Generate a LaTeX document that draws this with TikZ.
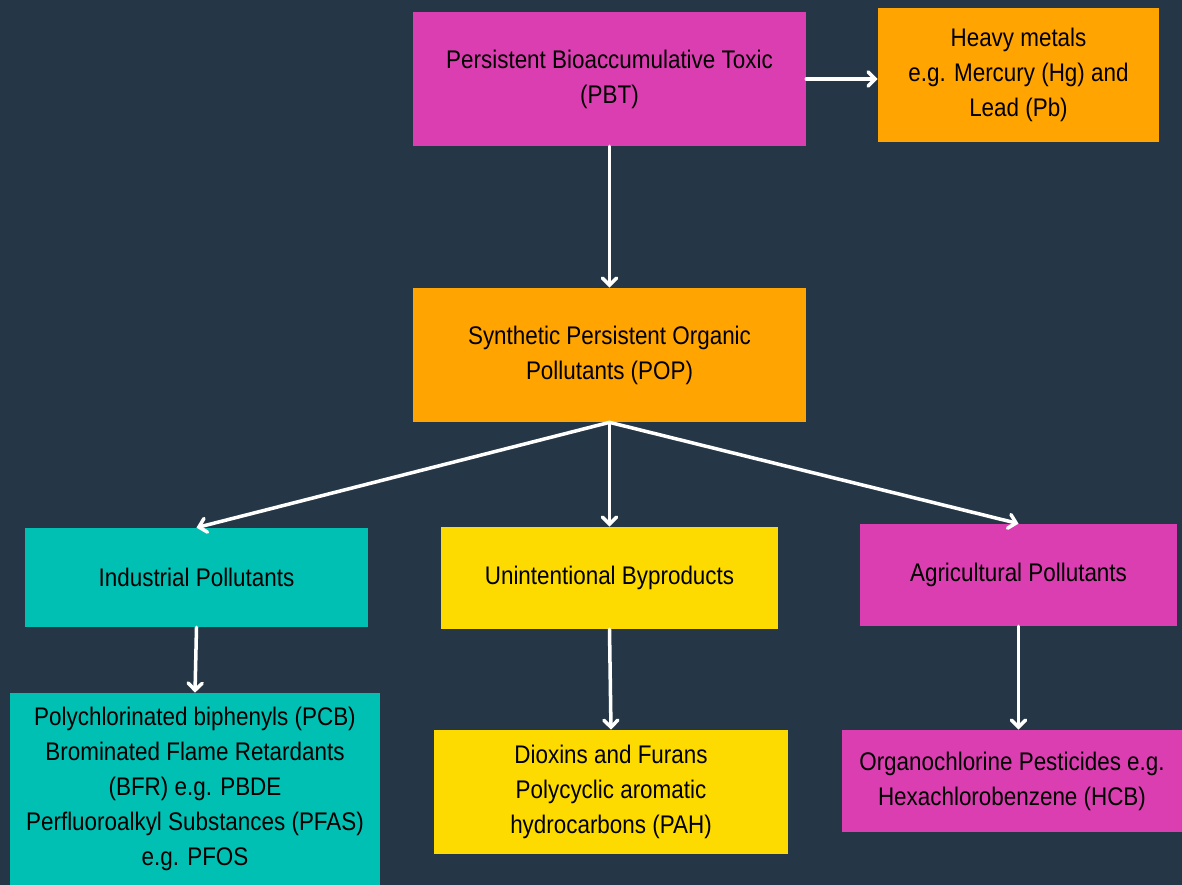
\documentclass[tikz,border=0pt]{standalone}
\usepackage{fontspec}
\setmainfont[FakeStretch=0.88]{Liberation Sans}
\usetikzlibrary{arrows.meta}
\definecolor{slate}{HTML}{253746}
\definecolor{pbtpink}{HTML}{DB3EB1}
\definecolor{poporange}{HTML}{FFA400}
\definecolor{indteal}{HTML}{00BFB3}
\definecolor{byyellow}{HTML}{FEDB00}

\begin{document}
\begin{tikzpicture}
\tikzstyle{boxStyle}=[shape = rectangle, inner sep = 0pt, align = center, text = black, font = \fontsize{14.5}{19.9}\selectfont]
\tikzstyle{pinkStyle}=[boxStyle, fill = pbtpink]
\tikzstyle{orangeStyle}=[boxStyle, fill = poporange]
\tikzstyle{tealStyle}=[boxStyle, fill = indteal]
\tikzstyle{yellowStyle}=[boxStyle, fill = byyellow]
\tikzstyle{arrowStyle}=[draw = white, line width = 2pt, line cap = round, -{Straight Barb[length = 4pt, width = 8pt, line cap = round]}]
\fill[slate] (0,0) rectangle (23.64,-17.70);
\useasboundingbox (0,0) rectangle (23.64,-17.70);
\node[pinkStyle, minimum width = 7.86cm, minimum height = 2.68cm] (pbt) at (12.19,-1.58) {Persistent Bioaccumulative Toxic\\(PBT)};
\node[orangeStyle, minimum width = 5.62cm, minimum height = 2.68cm] (heavy) at (20.37,-1.50) {Heavy metals\\e.g. Mercury (Hg) and\\Lead (Pb)};
\node[orangeStyle, minimum width = 7.86cm, minimum height = 2.68cm] (pop) at (12.19,-7.10) {Synthetic Persistent Organic\\Pollutants (POP)};
\node[tealStyle, minimum width = 6.86cm, minimum height = 1.98cm] (ind) at (3.93,-11.55) {Industrial Pollutants};
\node[yellowStyle, minimum width = 6.74cm, minimum height = 2.04cm] (unint) at (12.19,-11.56) {Unintentional Byproducts};
\node[pinkStyle, minimum width = 6.34cm, minimum height = 2.04cm] (agri) at (20.37,-11.50) {Agricultural Pollutants};
\node[tealStyle, minimum width = 7.40cm, minimum height = 3.84cm] (pcb) at (3.90,-15.78) {Polychlorinated biphenyls (PCB)\\Brominated Flame Retardants\\(BFR) e.g. PBDE\\Perfluoroalkyl Substances (PFAS)\\e.g. PFOS};
\node[yellowStyle, minimum width = 7.08cm, minimum height = 2.48cm] (diox) at (12.22,-15.84) {Dioxins and Furans\\Polycyclic aromatic\\hydrocarbons (PAH)};
\node[pinkStyle, minimum width = 6.80cm, minimum height = 2.04cm] (org) at (20.24,-15.62) {Organochlorine Pesticides e.g.\\Hexachlorobenzene (HCB)};
\path
(pbt.east) edge [arrowStyle] (pbt.east -| heavy.west)
(pbt.south) edge [arrowStyle] (pop.north)
(pop.south) edge [arrowStyle] (ind.north)
(pop.south) edge [arrowStyle] (unint.north)
(pop.south) edge [arrowStyle] (agri.north)
(ind.south) edge [arrowStyle] (pcb.north)
(unint.south) edge [arrowStyle] (diox.north)
(agri.south) edge [arrowStyle] (agri.south |- org.north);
\end{tikzpicture}
\end{document}
